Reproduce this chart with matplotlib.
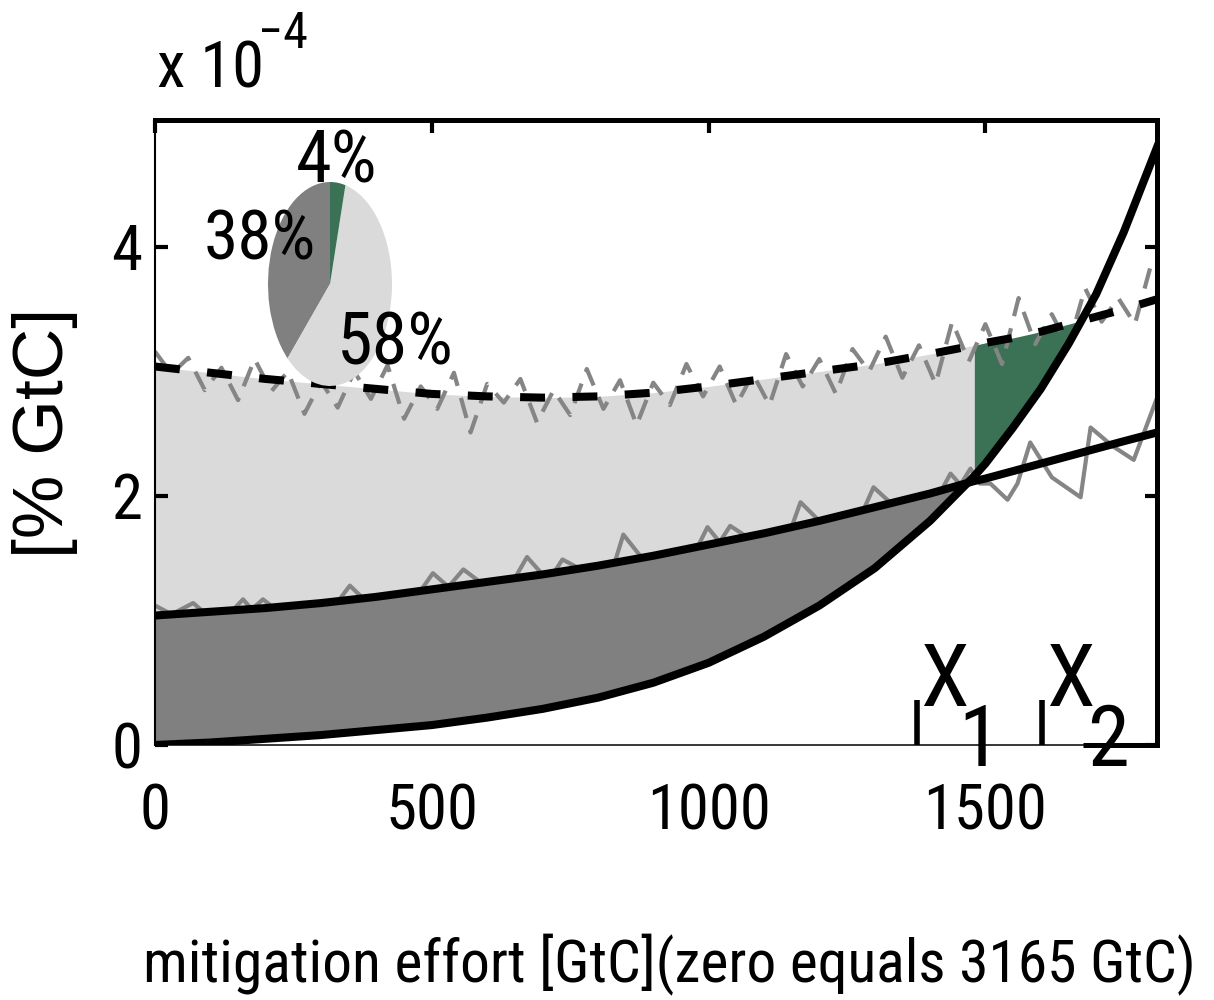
import matplotlib
matplotlib.use('Agg')
import numpy as np
import matplotlib.pyplot as plt
from matplotlib import font_manager

# curves (x in GtC, y in 1e-4 % GtC)
x_grid = [0, 100, 200, 300, 400, 500, 600, 700, 800, 900, 1000, 1100, 1200,
          1300, 1400, 1480, 1500, 1550, 1600, 1650, 1700, 1750, 1810]
cost = [0.00, 0.02, 0.05, 0.08, 0.12, 0.16, 0.22, 0.29, 0.38, 0.50, 0.66,
        0.87, 1.12, 1.42, 1.80, 2.16, 2.26, 2.55, 2.86, 3.22, 3.62, 4.12, 4.80]
benefit_mid = [1.04, 1.07, 1.10, 1.14, 1.19, 1.25, 1.31, 1.37, 1.44, 1.52,
               1.61, 1.70, 1.80, 1.91, 2.02, 2.12, 2.14, 2.20, 2.26, 2.32,
               2.38, 2.44, 2.51]
benefit_high = [3.04, 2.99, 2.94, 2.90, 2.86, 2.82, 2.80, 2.79, 2.80, 2.83,
                2.88, 2.94, 3.00, 3.06, 3.14, 3.21, 3.23, 3.27, 3.32, 3.38,
                3.44, 3.50, 3.58]

# noisy model runs (grey)
noisy_mid_x = [0, 30, 69, 90, 140, 159, 175, 195, 215, 330, 352, 380, 480, 502,
               530, 557, 590, 650, 672, 700, 720, 736, 770, 830, 846, 880, 980,
               998, 1020, 1039, 1070, 1150, 1166, 1200, 1280, 1298, 1330, 1420,
               1437, 1455, 1473, 1490, 1509, 1540, 1558, 1581, 1620, 1672, 1690,
               1730, 1768, 1811]
noisy_mid_y = [1.12, 1.05, 1.14, 1.06, 1.08, 1.17, 1.09, 1.17, 1.10, 1.15, 1.28,
               1.16, 1.24, 1.38, 1.27, 1.41, 1.30, 1.34, 1.51, 1.37, 1.38, 1.49,
               1.41, 1.46, 1.69, 1.50, 1.59, 1.75, 1.63, 1.76, 1.67, 1.75, 1.95,
               1.80, 1.89, 2.07, 1.94, 2.04, 2.18, 2.09, 2.22, 2.10, 2.10, 1.97,
               2.10, 2.43, 2.15, 1.99, 2.55, 2.40, 2.29, 2.80]
noisy_high_x = list(range(0, 1801, 30))
noisy_high_y = [3.16, 2.98, 3.11, 2.85, 3.03, 2.77, 3.10, 2.84, 3.00, 2.66,
                2.92, 2.71, 3.00, 2.78, 3.05, 2.62, 2.88, 2.70, 2.99, 2.51,
                2.90, 2.75, 2.94, 2.59, 2.85, 2.65, 3.02, 2.70, 2.93, 2.57,
                2.91, 2.73, 3.06, 2.80, 3.04, 2.73, 2.98, 2.73, 3.14, 2.88,
                3.10, 2.82, 3.18, 3.00, 3.28, 2.95, 3.21, 2.90, 3.40, 3.08,
                3.38, 3.06, 3.59, 3.22, 3.46, 3.20, 3.67, 3.40, 3.59, 3.38,
                3.87]

pie_values = [38, 58, 4]
pie_labels = ['38%', '58%', '4%']
x_ticks = [0, 500, 1000, 1500]
y_ticks = [0, 2, 4]
x_marks = [1377, 1602]
x_mark_names = ['1', '2']

light = '#dadada'
dark = '#808080'
green = '#3b7155'


# narrowest sans font on the machine
def pick_narrow():
    fl = font_manager.fontManager.ttflist
    names = {f.name for f in fl}
    for n in ['Liberation Sans Narrow', 'Arial Narrow', 'Nimbus Sans Narrow',
              'Roboto Condensed', 'Open Sans Condensed', 'Noto Sans Condensed',
              'DejaVu Sans Condensed']:
        if n in names:
            return {'family': n}
    for fam in ['Noto Sans', 'Open Sans', 'Roboto', 'DejaVu Sans']:
        for f in fl:
            if f.name == fam and f.stretch in ('condensed', 'semi-condensed') and f.style == 'normal':
                return {'family': fam, 'stretch': f.stretch}
    return {'family': 'Liberation Sans'}


NF = pick_narrow()

W, H = 1214, 1000
fig = plt.figure(figsize=(W / 100, H / 100), dpi=100)
renderer = fig.canvas.get_renderer()


def px(x, y):
    return x / W, 1 - y / H


def fit_size(s, width, **kw):
    t = fig.text(0, 0, s, fontsize=40, **kw)
    w = t.get_window_extent(renderer).width
    t.remove()
    return 40 * width / w


def label(x, y, s, width, grow=1.0, **kw):
    fs = fit_size(s, width, **NF) * grow
    return fig.text(*px(x, y), s, fontsize=fs, **NF, **kw)


ax = fig.add_axes([155 / W, 1 - 745 / H, (1157 - 155) / W, (745 - 120) / H])

x = np.array(x_grid, dtype=float)
lo = np.array(cost)
mid = np.array(benefit_mid)
hi = np.array(benefit_high)

# shaded areas
ax.fill_between(x, np.maximum(lo, mid), hi, where=x <= 1480, color=light, lw=0, zorder=1)
ax.fill_between(x, lo, mid, where=lo <= mid, interpolate=True, color=dark, lw=0, zorder=1)
ax.fill_between(x, lo, hi, where=(x >= 1480) & (lo <= hi), interpolate=True,
                color=green, lw=0, zorder=1)

# grey noisy runs
ax.plot(noisy_mid_x, noisy_mid_y, color='#858585', lw=3, zorder=2)
g, = ax.plot(noisy_high_x, noisy_high_y, color='#858585', lw=3, zorder=2)
g.set_dashes([5, 3])

# black curves
ax.plot(x, lo, color='k', lw=5.8, zorder=3)
ax.plot(x, mid, color='k', lw=5.8, zorder=3)
d, = ax.plot(x, hi, color='k', lw=5.8, zorder=3)
d.set_dashes([3.1, 3.4])

# X1 / X2 markers
for xm in x_marks:
    ax.plot([xm, xm], [0, 0.36], color='k', lw=4, solid_capstyle='butt', zorder=4)
ax.plot([1677, 1810], [0, 0], color='k', lw=3.6, solid_capstyle='butt',
        clip_on=False, zorder=4)

tick_fs = fit_size('1000', 108, **NF) * 1.15
ax.set_xlim(0, 1810)
ax.set_ylim(0, 5.02)
ax.set_xticks(x_ticks, [str(t) for t in x_ticks], fontsize=tick_fs, **NF)
ax.set_yticks(y_ticks, [str(t) for t in y_ticks], fontsize=tick_fs, **NF)
ax.tick_params(axis='x', bottom=False, top=True, labelbottom=True,
               direction='in', length=9, width=3, pad=27)
ax.tick_params(axis='y', left=True, right=True, direction='in',
               length=9, width=3, pad=9)
for side, w in [('top', 3.6), ('right', 3.6), ('left', 1.5), ('bottom', 1.1)]:
    ax.spines[side].set_linewidth(w)

# labels
label(944, 682, 'X', 36, grow=1.35, ha='center', va='center')
label(1070, 682, 'X', 36, grow=1.35, ha='center', va='center')
for nm, xp in zip(x_mark_names, [979, 1108]):
    fig.text(*px(xp, 742), nm, fontsize=tick_fs * 1.35, **NF, ha='center', va='center')

label(157, 87, 'x 10', 93, grow=1.15, ha='left', va='baseline')
fig.text(*px(258, 48), '\u22124', fontsize=tick_fs * 0.8, **NF, ha='left', va='baseline')

label(669, 982, 'mitigation effort [GtC](zero equals 3165 GtC)', 1052,
      ha='center', va='baseline')
yfs = fit_size('[% GtC]', 250, family='Liberation Sans')
fig.text(*px(45, 433), '[% GtC]', fontsize=yfs, family='Liberation Sans',
         rotation=90, ha='center', va='center')

# inset pie
axp = fig.add_axes([268 / W, 1 - 386 / H, 124 / W, 204 / H])
axp.pie(pie_values, colors=[dark, light, green], startangle=90,
        counterclock=True, radius=1, wedgeprops={'linewidth': 0})
axp.set_aspect('auto')
axp.set_xlim(-1, 1)
axp.set_ylim(-1, 1)
axp.axis('off')

label(260, 240, pie_labels[0], 100, grow=1.12, ha='center', va='center')
label(395, 345, pie_labels[1], 104, grow=1.12, ha='center', va='center')
label(337, 163, pie_labels[2], 73, grow=1.12, ha='center', va='center')

fig.savefig('out.png', dpi=100)
